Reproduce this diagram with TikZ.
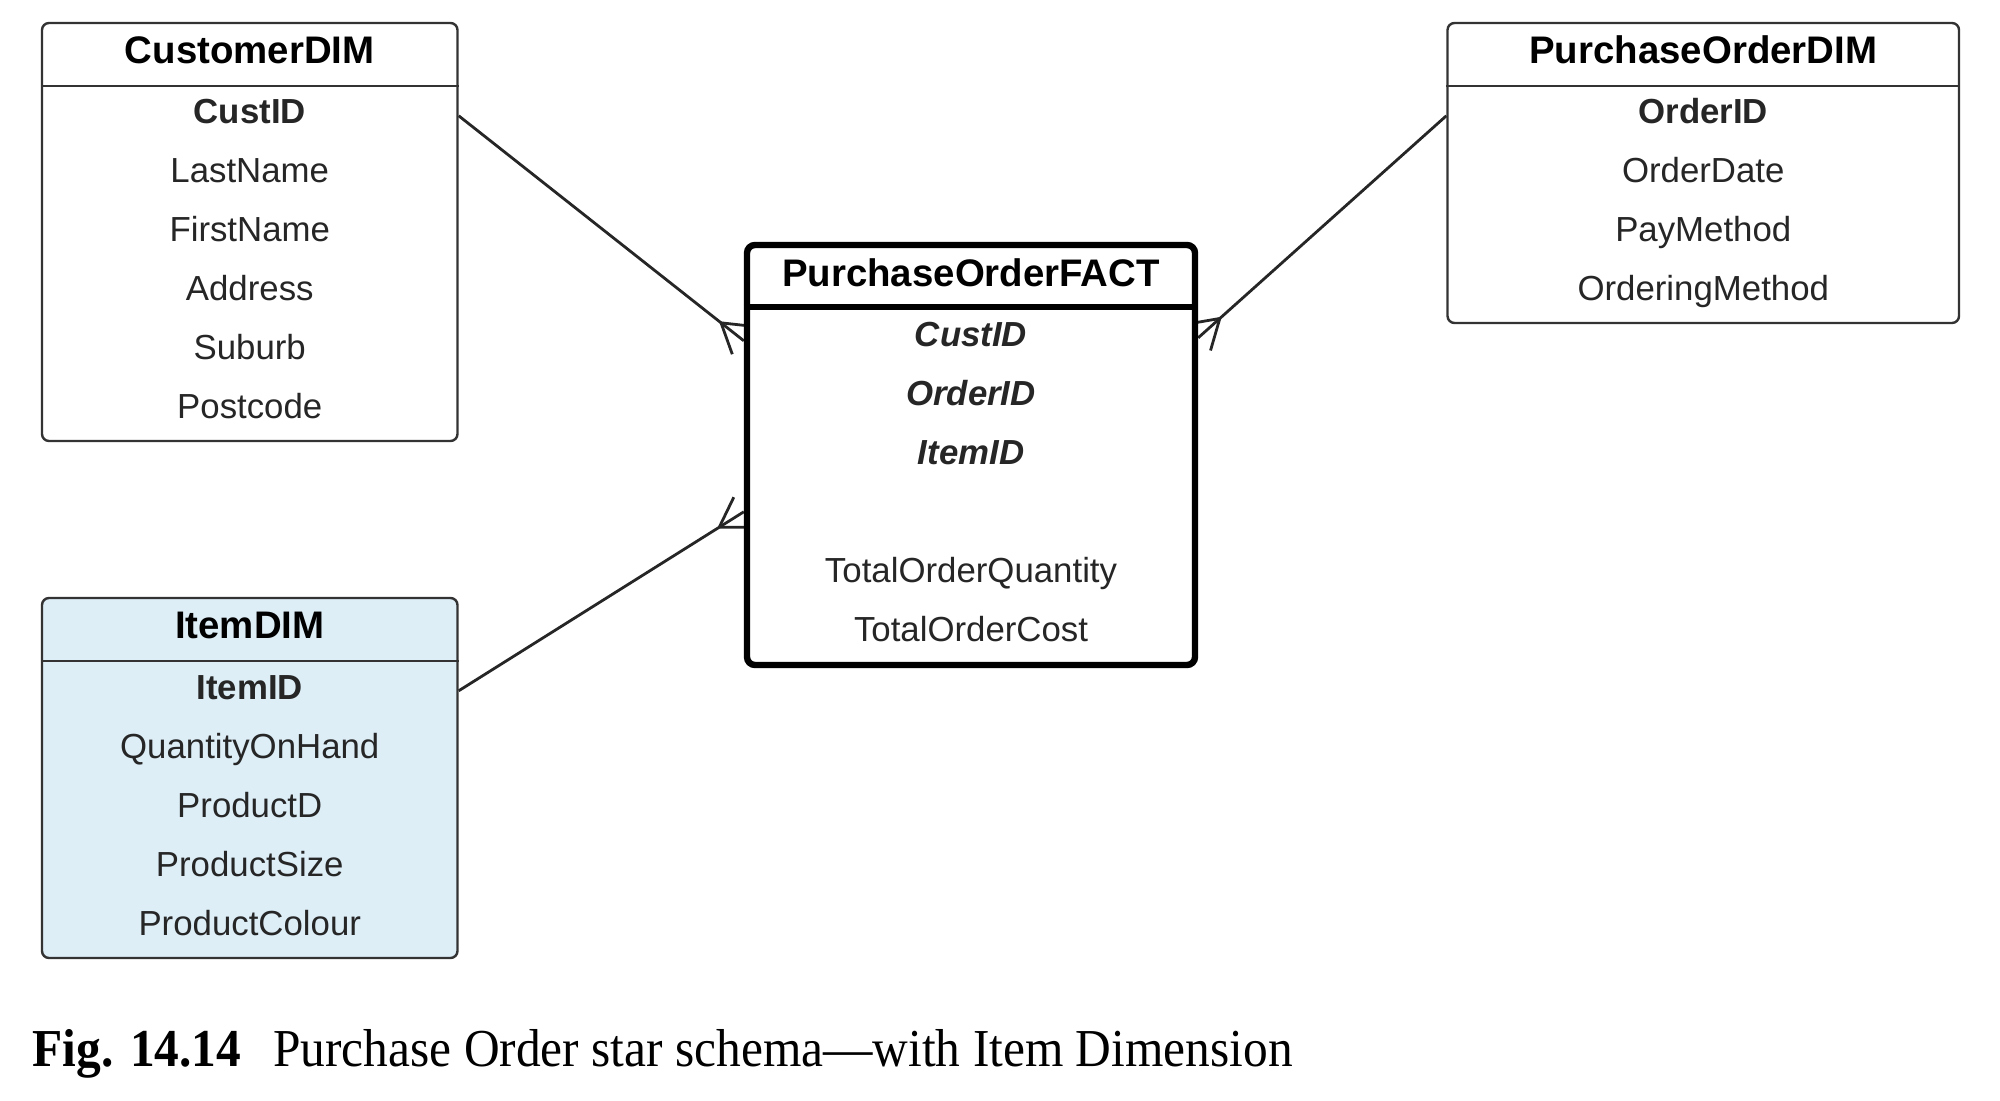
\documentclass[tikz,border=0pt]{standalone}
\usepackage{fontspec}
\setmainfont{Liberation Serif}
\setsansfont{Liberation Sans}
\usetikzlibrary{calc, backgrounds}
\definecolor{cline}{HTML}{333333}
\definecolor{cfill}{HTML}{DDEEF7}

\begin{document}
\begin{tikzpicture}[
  x=0.25pt, y=-0.25pt,
  font=\sffamily\fontsize{8.7}{14.75}\selectfont,
  tblframe/.style={draw=cline, line width=0.6pt, rounded corners=1.75pt,
               fill=white, inner sep=0pt},
  factframe/.style={tblframe, draw=black, line width=1.6pt, rounded corners=2pt},
  ttl/.style={font=\sffamily\bfseries\fontsize{9.6}{11}\selectfont, inner sep=0pt},
  rows/.style={align=center, inner sep=0pt, text=black!85},
  link/.style={draw=black!85, line width=0.7pt},
  ]
\useasboundingbox (0,0) rectangle (2000,1101);

% dimension and fact tables
\node[tblframe, minimum width=103.875pt, minimum height=104.5pt] (cust) at (249.75,232) {};
\node[tblframe, minimum width=127.875pt, minimum height=75pt] (po) at (1703.25,173) {};
\node[tblframe, fill=cfill, minimum width=103.875pt, minimum height=90pt] (item) at (249.75,778) {};
\node[factframe, minimum width=112pt, minimum height=105pt] (fact) at (971,455) {};

\draw[cline, line width=0.6pt] ([yshift=-16pt]cust.north west) -- ([yshift=-16pt]cust.north east);
\draw[cline, line width=0.6pt] ([yshift=-16pt]po.north west) -- ([yshift=-16pt]po.north east);
\draw[cline, line width=0.6pt] ([yshift=-16pt]item.north west) -- ([yshift=-16pt]item.north east);
\draw[black, line width=1.6pt] ([yshift=-16.25pt]fact.north west) -- ([yshift=-16.25pt]fact.north east);

\node[ttl] (custT) at (249.75,50) {CustomerDIM};
\node[ttl] (poT) at (1703.25,50) {PurchaseOrderDIM};
\node[ttl] (itemT) at (249.75,625) {ItemDIM};
\node[ttl] (factT) at (971,273) {PurchaseOrderFACT};

\node[rows] (custR) at (249.75,259.5) {
  \textbf{CustID}\\
  LastName\\
  FirstName\\
  Address\\
  Suburb\\
  Postcode
};
\node[rows] (poR) at (1703.25,203) {
  \textbf{OrderID}\\
  OrderDate\\
  PayMethod\\
  OrderingMethod
};
\node[rows] (itemR) at (249.75,806) {
  \textbf{ItemID}\\
  QuantityOnHand\\
  ProductD\\
  ProductSize\\
  ProductColour
};
\node[rows] (factR) at (971,482) {
  \textbf{\textit{CustID}}\\
  \textbf{\textit{OrderID}}\\
  \textbf{\textit{ItemID}}\\[14.75pt]
  TotalOrderQuantity\\
  TotalOrderCost
};

% connectors with crow's feet at the fact table
\coordinate (e1) at ([yshift=-24.75pt]fact.north west);
\coordinate (e2) at ([yshift=-24pt]fact.north east);
\coordinate (e3) at ([yshift=-67.5pt]fact.north west);
\coordinate (k1) at ($(e1)!7.25pt!([yshift=-23.5pt]cust.north east)$);
\coordinate (k2) at ($(e2)!7.25pt!([yshift=-23.5pt]po.north west)$);
\coordinate (k3) at ($(e3)!7.25pt!([yshift=-23.5pt]item.north east)$);
\begin{scope}[on background layer]
\draw[link] ([yshift=-23.5pt]cust.north east) -- (e1);
\draw[link] (k1) -- ($(k1)!1.15!32:(e1)$) (k1) -- ($(k1)!1.15!-32:(e1)$);
\draw[link] ([yshift=-23.5pt]po.north west) -- (e2);
\draw[link] (k2) -- ($(k2)!1.15!32:(e2)$) (k2) -- ($(k2)!1.15!-32:(e2)$);
\draw[link] ([yshift=-23.5pt]item.north east) -- (e3);
\draw[link] (k3) -- ($(k3)!1.15!32:(e3)$) (k3) -- ($(k3)!1.15!-32:(e3)$);
\end{scope}

\node[anchor=base west, inner sep=0pt, font=\rmfamily\fontsize{12.35}{14}\selectfont] (caption) at (32,1066)
  {\scalebox{1}[1.08]{\textbf{Fig. 14.14}\hspace{8pt}Purchase Order star schema---with Item Dimension}};
\end{tikzpicture}
\end{document}
